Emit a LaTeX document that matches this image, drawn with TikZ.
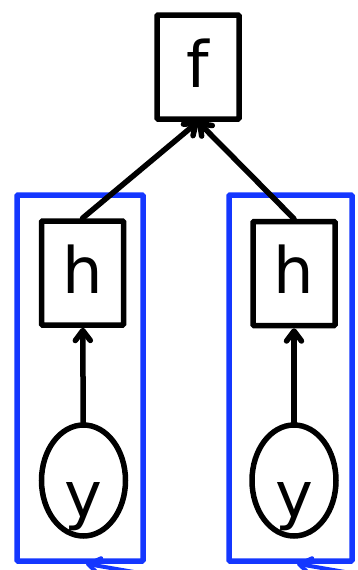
\documentclass[tikz,border=0pt]{standalone}
\usepackage{fontspec}
\setmainfont{DejaVu Sans}
\usetikzlibrary{arrows.meta,shapes.geometric}
\definecolor{platecol}{RGB}{20,55,255}
\begin{document}
\begin{tikzpicture}[x=1pt,y=-1pt,
  lbl/.style={font=\fontsize{64}{64}\selectfont},
  fac/.style={draw, line width=5.5pt, rounded corners=1pt, minimum width=82pt, minimum height=104pt, inner sep=0pt, text height=40pt, text depth=0pt, lbl},
  var/.style={draw, ellipse, line width=5.5pt, minimum width=84pt, minimum height=111pt, inner sep=0pt, text height=73pt, text depth=0pt, lbl},
  plate/.style={draw=platecol, line width=5.5pt, rounded corners=1pt, minimum height=366pt, inner sep=0pt},
  edge/.style={line width=5.5pt, line cap=round, -{Straight Barb[length=10pt,width=15pt,line cap=round,line join=round]}},
  pedge/.style={draw=platecol, line width=4pt, line cap=round, -{Straight Barb[length=12pt,width=16pt,line cap=round,line join=round]}},
]
\useasboundingbox (0,0) rectangle (357,570);
\node[fac] (f) at (198,67) {f};
\node[plate, minimum width=126pt] (p1) at (80,378) {};
\node[plate, minimum width=123pt] (p2) at (290.5,378) {};
\node[fac] (h1) at (82.5,273) {h};
\node[fac] (h2) at (294,273.5) {h};
\node[var] (y1) at (83.5,480.5) {y};
\node[var] (y2) at (294,480.5) {y};
\draw[edge] (y1) -- (h1);
\draw[edge] (y2) -- (h2);
\draw[edge] (h1.north) -- (f.south);
\draw[edge] (h2.north) -- (f.south);
\coordinate (s1) at (186,581);
\coordinate (s2) at (397,581);
\draw[pedge] (s1) -- ([xshift=6pt]p1.south);
\draw[pedge] (s2) -- ([xshift=6.5pt]p2.south);
\end{tikzpicture}
\end{document}
